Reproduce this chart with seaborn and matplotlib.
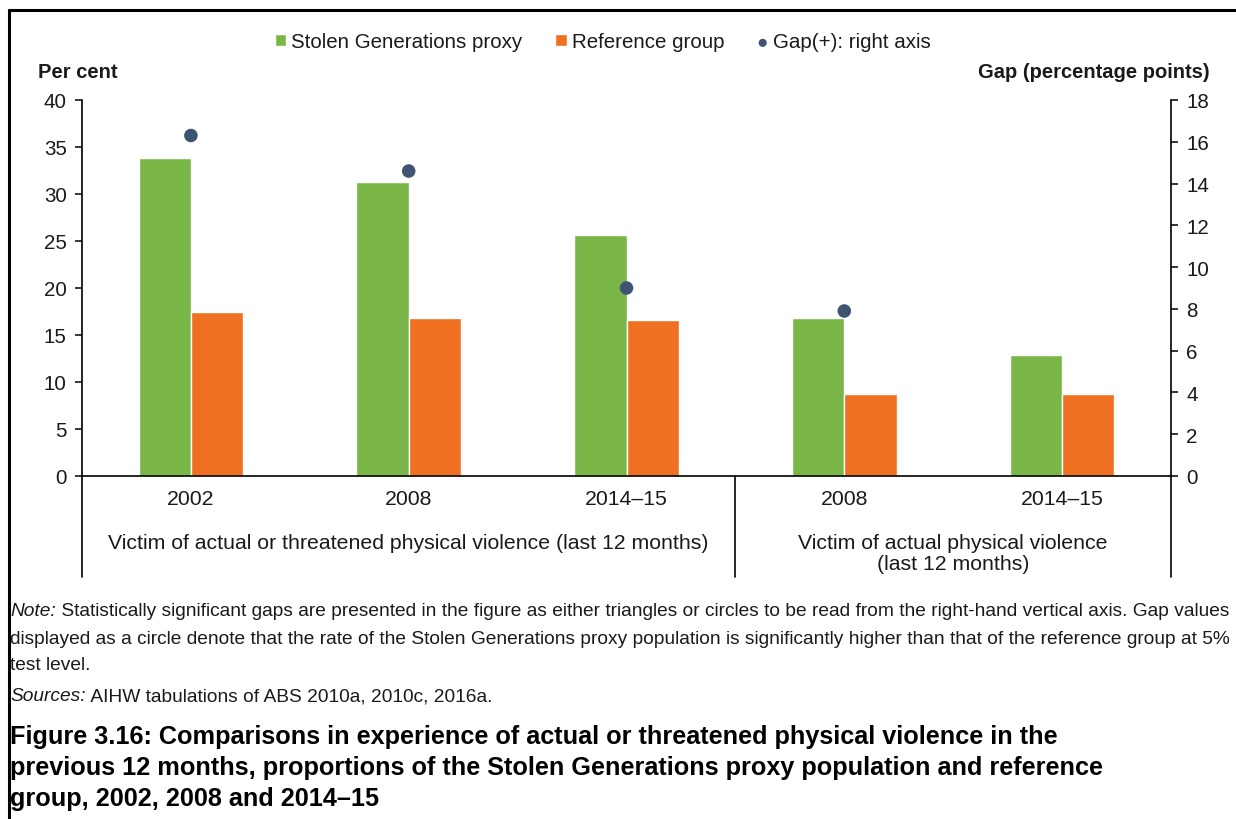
import pandas as pd
import matplotlib.pyplot as plt
import seaborn as sns
from matplotlib.lines import Line2D
from matplotlib.transforms import blended_transform_factory

# data
years = ["2002", "2008", "2014–15", "2008", "2014–15"]
groups = ["threat", "threat", "threat", "actual", "actual"]
series = ["Stolen Generations proxy", "Reference group"]
sg_proxy = [33.8, 31.3, 25.6, 16.8, 12.9]
reference = [17.4, 16.8, 16.6, 8.7, 8.7]
gap = [16.3, 14.6, 9.0, 7.9]  # last category has no significant gap
group_labels = ["Victim of actual or threatened physical violence (last 12 months)",
                "Victim of actual physical violence\n(last 12 months)"]

green = "#7AB648"
orange = "#F07022"
dot = "#3F5372"
txt = "#1a1a1a"

sns.set_style("white")
plt.rcParams['font.family'] = ['Liberation Sans', 'DejaVu Sans']

keys = [f"{g}|{y}" for g, y in zip(groups, years)]
df = pd.DataFrame({
    'key': keys * 2,
    'series': [series[0]] * 5 + [series[1]] * 5,
    'value': sg_proxy + reference,
})

W, H = 1236, 820
fig = plt.figure(figsize=(W / 100, H / 100), dpi=100)
ax = fig.add_axes([82 / W, 1 - 477 / H, (1171 - 82) / W, (477 - 101) / H])

sns.barplot(data=df, x='key', y='value', hue='series', order=keys, hue_order=series,
            palette=[green, orange], saturation=1, width=0.48, gap=0, ax=ax)
ax.get_legend().remove()
ax.set_ylim(0, 40)
ax.set_yticks(range(0, 41, 5))
ax.set_xlim(-0.5, 4.5)
ax.set_xticks([])
ax.set_xlabel("")
ax.set_ylabel("")

ax2 = ax.twinx()
sns.scatterplot(x=list(range(len(gap))), y=gap, ax=ax2, color=dot, s=95,
                edgecolor='none', label="Gap(+): right axis", zorder=5)
ax2.get_legend().remove()
ax2.set_ylim(0, 18)
ax2.set_yticks(range(0, 19, 2))
ax2.set_xlim(-0.5, 4.5)

for a in (ax, ax2):
    for s in a.spines.values():
        s.set_visible(False)
        s.set_linewidth(1.2)
        s.set_color("black")
ax.spines['left'].set_visible(True)
ax.spines['bottom'].set_visible(True)
ax2.spines['right'].set_visible(True)
ax.tick_params(axis='y', direction='out', length=5, width=1.1, color='black',
               labelsize=14.8, labelcolor=txt, pad=6, left=True)
ax2.tick_params(axis='y', direction='out', length=5, width=1.1, color='black',
                labelsize=14.8, labelcolor=txt, pad=6, right=True)

# category and group labels below the axis
tr = blended_transform_factory(ax.transData, ax.transAxes)
for i, y in enumerate(years):
    ax.text(i, -0.061, y, transform=tr, ha='center', va='center', fontsize=15.3, color=txt)
ax.text(1, -0.176, group_labels[0], transform=tr, ha='center', va='center', fontsize=15.3, color=txt)
ax.text(3.5, -0.205, group_labels[1], transform=tr, ha='center', va='center', fontsize=15.3,
        color=txt, linespacing=1.15)
for xa in (0, 0.6, 1):
    ax.add_line(Line2D([xa, xa], [0, -0.269], transform=ax.transAxes, color='black',
                       lw=1.2, clip_on=False))

fig.text(38 / W, 1 - 72 / H, "Per cent", fontsize=14.5, fontweight='bold', va='center', color=txt)
fig.text(1210 / W, 1 - 73 / H, "Gap (percentage points)", fontsize=14.5, fontweight='bold',
         va='center', ha='right', color=txt)

h1, l1 = ax.get_legend_handles_labels()
h2, l2 = ax2.get_legend_handles_labels()
fig.legend(h1 + h2, l1 + l2, loc='center', bbox_to_anchor=(603 / W, 1 - 43 / H), ncol=3,
           frameon=False, fontsize=14.8, handlelength=0.55, handleheight=0.55,
           handletextpad=0.25, columnspacing=1.6, markerscale=0.6, labelcolor=txt)

# note, sources and caption
note_lines = [
    " Statistically significant gaps are presented in the figure as either triangles or circles to be read from the right-hand vertical axis. Gap values",
    "displayed as a circle denote that the rate of the Stolen Generations proxy population is significantly higher than that of the reference group at 5%",
    "test level.",
]
nfs = 13.8
t = fig.text(10 / W, 1 - 612 / H, "Note:", fontsize=nfs, style='italic', va='center', color=txt)
plt.annotate(note_lines[0], xy=(1, 0), xycoords=t, fontsize=nfs, va='bottom', ha='left', color=txt)
fig.text(10 / W, 1 - 639 / H, note_lines[1], fontsize=nfs, va='center', color=txt)
fig.text(10 / W, 1 - 666 / H, note_lines[2], fontsize=nfs, va='center', color=txt)
t2 = fig.text(10 / W, 1 - 697 / H, "Sources:", fontsize=nfs, style='italic', va='center', color=txt)
plt.annotate(" AIHW tabulations of ABS 2010a, 2010c, 2016a.", xy=(1, 0), xycoords=t2,
             fontsize=nfs, va='bottom', ha='left', color=txt)

caption = ["Figure 3.16: Comparisons in experience of actual or threatened physical violence in the",
           "previous 12 months, proportions of the Stolen Generations proxy population and reference",
           "group, 2002, 2008 and 2014–15"]
for k, line in enumerate(caption):
    fig.text(10 / W, 1 - (737 + 31 * k) / H, line, fontsize=18.2, fontweight='bold', va='center',
             color='black')

# page frame (top and left edges)
fig.add_artist(Line2D([9 / W, 1], [1 - 11 / H, 1 - 11 / H], transform=fig.transFigure,
                      color='black', lw=2.2))
fig.add_artist(Line2D([9 / W, 9 / W], [0, 1 - 11 / H], transform=fig.transFigure,
                      color='black', lw=2.2))

fig.savefig("out.png", dpi=100)
